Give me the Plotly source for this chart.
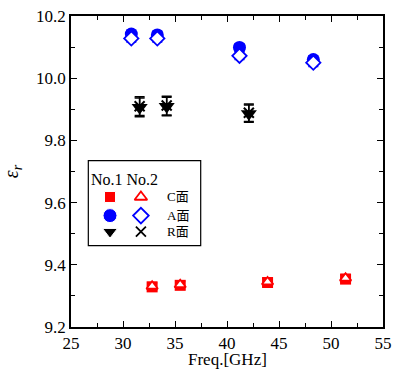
import plotly.graph_objects as go

# ---- data ----
freq_A = [30.8, 33.3, 41.2, 48.3]
A_no1 = [10.142, 10.139, 10.099, 10.060]
A_no2 = [10.128, 10.128, 10.072, 10.050]
A_err = [0.012, 0.012, 0.012, 0.012]

freq_R = [31.6, 34.2, 42.1]
R_no1 = [9.906, 9.909, 9.886]
R_no2 = [9.910, 9.912, 9.889]
R_err = [0.030, 0.030, 0.028]

freq_C = [32.8, 35.5, 43.9, 51.4]
C_no1 = [9.329, 9.334, 9.343, 9.354]
C_no2 = [9.331, 9.336, 9.345, 9.357]
C_err = [0.012, 0.012, 0.012, 0.012]

legend_rows = ["C面", "A面", "R面"]
legend_header = "No.1 No.2"

x_ticks = [25, 30, 35, 40, 45, 50, 55]
y_ticks = [9.2, 9.4, 9.6, 9.8, 10.0, 10.2]
y_ticklabels = ["9.2", "9.4", "9.6", "9.8", "10.0", "10.2"]
x_title = "Freq.[GHz]"

SERIF = "'Liberation Serif', 'Times New Roman', serif"
CJK = "'Liberation Serif', 'Noto Sans CJK JP', serif"
RED, BLUE, BLACK = "#ff0000", "#0000ff", "#000000"

fig = go.Figure()

def err(vals, color):
    return dict(type="data", array=vals, visible=True, color=color, thickness=1.5, width=5)

# C face
fig.add_trace(go.Scatter(x=freq_C, y=C_no1, mode="markers", error_y=err(C_err, RED),
                         marker=dict(symbol="square", size=11, color=RED, opacity=1), showlegend=False))
fig.add_trace(go.Scatter(x=freq_C, y=C_no2, mode="markers", error_y=err(C_err, RED),
                         marker=dict(symbol="triangle-up", size=10, color="white", opacity=1,
                                     line=dict(color=RED, width=1.8)), showlegend=False))
# A face
fig.add_trace(go.Scatter(x=freq_A, y=A_no1, mode="markers", error_y=err(A_err, BLUE),
                         marker=dict(symbol="circle", size=13, color=BLUE, opacity=1), showlegend=False))
fig.add_trace(go.Scatter(x=freq_A, y=A_no2, mode="markers", error_y=err(A_err, BLUE),
                         marker=dict(symbol="diamond", size=11, color="white", opacity=1,
                                     line=dict(color=BLUE, width=1.8)), showlegend=False))
# R face
fig.add_trace(go.Scatter(x=freq_R, y=R_no1, mode="markers", error_y=err(R_err, BLACK),
                         marker=dict(symbol="triangle-down", size=14, color=BLACK, opacity=1), showlegend=False))
fig.add_trace(go.Scatter(x=freq_R, y=R_no2, mode="markers", error_y=err(R_err, BLACK),
                         marker=dict(symbol="x-thin", size=10, color=BLACK, opacity=1,
                                     line=dict(color=BLACK, width=2)), showlegend=False))

# ---- inset legend (own axes) ----
leg_x0, leg_x1, leg_y0, leg_y1 = 0.0555, 0.4157, 0.2614, 0.5347
row_y = [0.573, 0.354, 0.165]
col1, col2, colt = 0.193, 0.468, 0.68
fig.add_trace(go.Scatter(x=[col1] * 3, y=row_y, mode="markers", xaxis="x2", yaxis="y2",
                         marker=dict(symbol=["square", "circle", "triangle-down"], opacity=1,
                                     size=[11, 14, 13], color=[RED, BLUE, BLACK]),
                         showlegend=False, hoverinfo="skip"))
fig.add_trace(go.Scatter(x=[col2] * 3, y=row_y, mode="markers", xaxis="x2", yaxis="y2",
                         marker=dict(symbol=["triangle-up-open", "diamond-open", "x-thin"],
                                     size=[11, 12, 10], color=[RED, BLUE, BLACK], opacity=1,
                                     line=dict(color=[RED, BLUE, BLACK], width=1.8)),
                         showlegend=False, hoverinfo="skip"))
for ry, label in zip(row_y, legend_rows):
    fig.add_annotation(x=colt, y=ry, xref="x2", yref="y2", text=label, xanchor="left",
                       showarrow=False, font=dict(family=CJK, size=13, color="black"))
fig.add_annotation(x=0.322, y=0.773, xref="x2", yref="y2", text=legend_header,
                   showarrow=False, font=dict(family=SERIF, size=16, color="black"))
fig.add_shape(type="rect", xref="paper", yref="paper", x0=leg_x0, x1=leg_x1, y0=leg_y0, y1=leg_y1,
              line=dict(color="black", width=1.2), fillcolor="rgba(0,0,0,0)")

# x-axis title
fig.add_annotation(x=0.5, y=0, xref="paper", yref="paper", text=x_title, showarrow=False,
                   xanchor="center", yanchor="top", yshift=-21,
                   font=dict(family=SERIF, size=17, color="black"))

axis_common = dict(showline=True, linecolor="black", linewidth=1.5, mirror="ticks",
                   ticks="inside", ticklen=6, tickwidth=1.2, tickcolor="black",
                   showgrid=False, zeroline=False, automargin=False,
                   tickfont=dict(family=SERIF, size=17, color="black"))

fig.update_layout(
    width=395, height=373,
    margin=dict(l=71, r=12, t=16, b=46),
    paper_bgcolor="white", plot_bgcolor="white",
    font=dict(family=SERIF, color="black"),
    xaxis=dict(range=[25, 55], tickvals=x_ticks, ticktext=[str(v) for v in x_ticks],
               minor=dict(dtick=2.5, ticks="inside", ticklen=4, tickcolor="black", tickwidth=1),
               **axis_common),
    yaxis=dict(range=[9.2, 10.2], tickvals=y_ticks, ticktext=y_ticklabels,
               minor=dict(dtick=0.1, ticks="inside", ticklen=4, tickcolor="black", tickwidth=1),
               title=dict(text="<i>ε<sub>r</sub></i>", font=dict(family=SERIF, size=20), standoff=14),
               **axis_common),
    xaxis2=dict(domain=[leg_x0, leg_x1], range=[0, 1], anchor="y2", visible=False, fixedrange=True),
    yaxis2=dict(domain=[leg_y0, leg_y1], range=[0, 1], anchor="x2", visible=False, fixedrange=True),
)

fig.write_html("out.html", config={"displayModeBar": False},
               post_script="document.body.style.margin='0';document.body.style.overflow='hidden';")
